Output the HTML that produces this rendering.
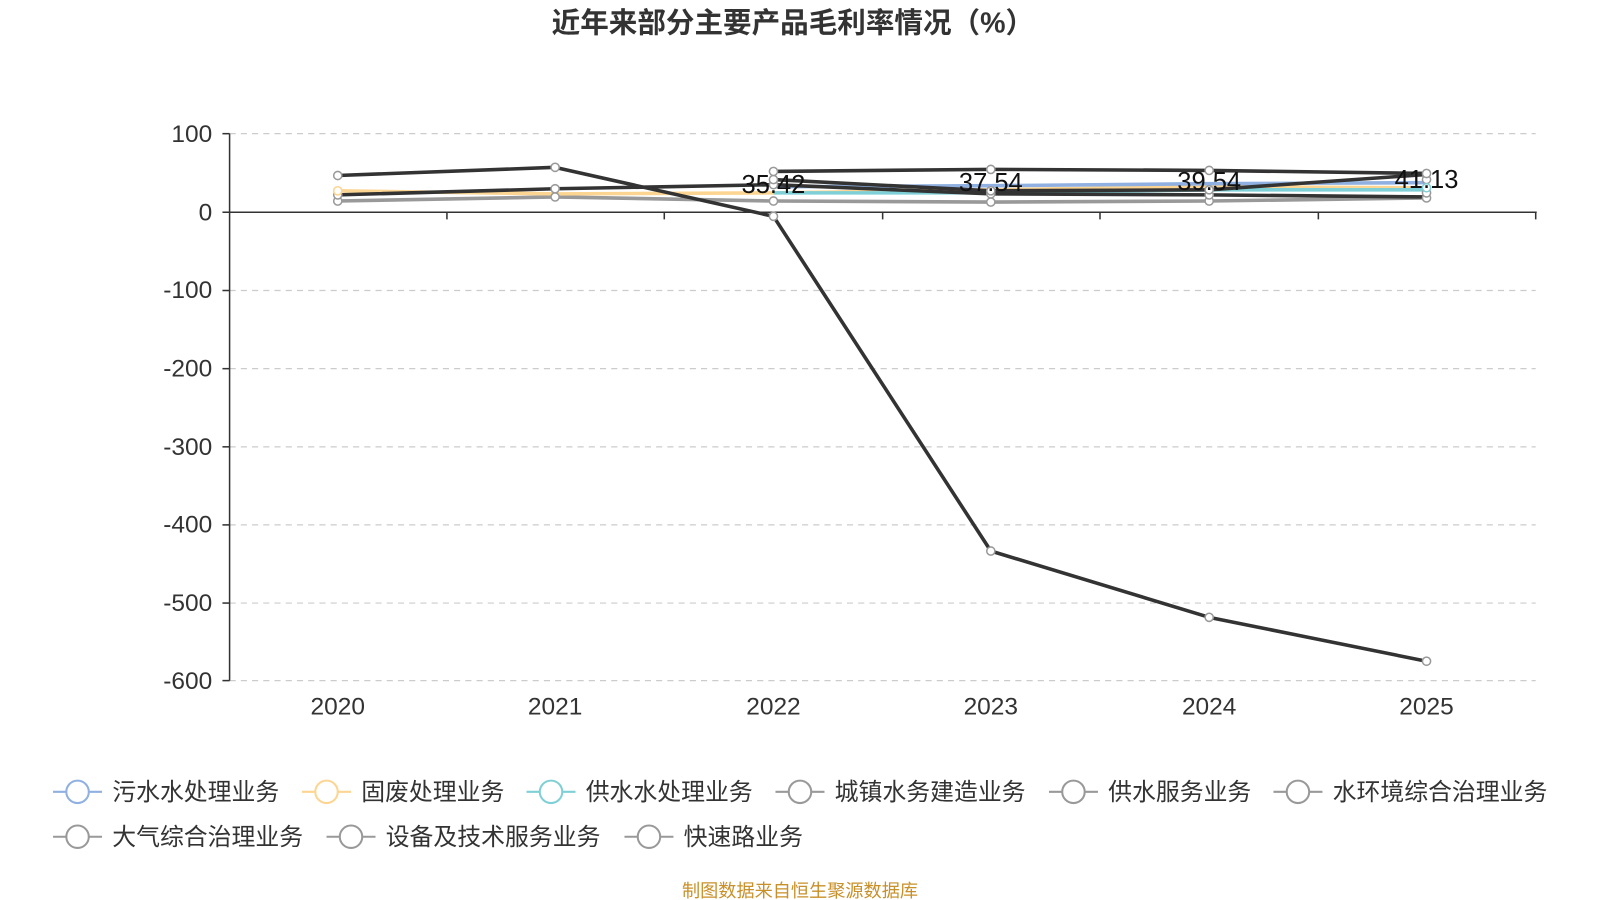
<!DOCTYPE html>
<html><head><meta charset="utf-8"><style>
body{margin:0;background:#fff;}
svg{display:block;font-family:"Liberation Sans","Noto Sans CJK SC",sans-serif;}
</style></head><body>
<svg width="1600" height="900" viewBox="0 0 1600 900">
<g transform="scale(1.0204)">
<text x="777" y="32" text-anchor="middle" font-size="28" font-weight="bold" fill="#333">近年来部分主要产品毛利率情况（%）</text>
<g stroke="#ccc" stroke-dasharray="6,5" stroke-width="1.2">
<line x1="225" y1="131" x2="1505" y2="131"/><line x1="225" y1="284.7" x2="1505" y2="284.7"/>
<line x1="225" y1="361.3" x2="1505" y2="361.3"/><line x1="225" y1="437.9" x2="1505" y2="437.9"/>
<line x1="225" y1="514.4" x2="1505" y2="514.4"/><line x1="225" y1="591" x2="1505" y2="591"/>
<line x1="225" y1="667" x2="1505" y2="667"/>
</g>
<g stroke="#333" stroke-width="1.5">
<line x1="225" y1="131" x2="225" y2="667"/>
<line x1="225" y1="208" x2="1506" y2="208"/>
<line x1="218" y1="131" x2="225" y2="131"/><line x1="218" y1="208" x2="225" y2="208"/>
<line x1="218" y1="284.7" x2="225" y2="284.7"/><line x1="218" y1="361.3" x2="225" y2="361.3"/>
<line x1="218" y1="437.9" x2="225" y2="437.9"/><line x1="218" y1="514.4" x2="225" y2="514.4"/>
<line x1="218" y1="591" x2="225" y2="591"/><line x1="218" y1="667" x2="225" y2="667"/>
<line x1="438" y1="208" x2="438" y2="215"/><line x1="651" y1="208" x2="651" y2="215"/>
<line x1="865" y1="208" x2="865" y2="215"/><line x1="1078" y1="208" x2="1078" y2="215"/>
<line x1="1292" y1="208" x2="1292" y2="215"/><line x1="1505" y1="208" x2="1505" y2="215"/>
</g>
<g font-size="24" fill="#333" text-anchor="end">
<text x="208" y="139">100</text><text x="208" y="216">0</text><text x="208" y="292">-100</text>
<text x="208" y="369">-200</text><text x="208" y="446">-300</text><text x="208" y="522">-400</text>
<text x="208" y="599">-500</text><text x="208" y="675">-600</text>
</g>
<g font-size="24" fill="#333" text-anchor="middle">
<text x="331" y="700">2020</text><text x="544" y="700">2021</text><text x="758" y="700">2022</text>
<text x="971" y="700">2023</text><text x="1185" y="700">2024</text><text x="1398" y="700">2025</text>
</g>
<g fill="none" stroke-width="3.5" stroke-linejoin="round">
<polyline stroke="#999" points="331,197 544,193 758,197 971,198 1185,197 1398,194"/>
<polyline stroke="#fdd592" points="331,187 544,190 758,189 971,186 1185,183 1398,184"/>
<polyline stroke="#8fb0e0" points="758,183 971,182 1185,180 1398,179"/>
<polyline stroke="#7fd0d6" points="758,189 971,189 1185,186 1398,186"/>
<polyline stroke="#333" points="331,191 544,185 758,181 971,190 1185,191 1398,193"/>
<polyline stroke="#333" points="758,176 971,187 1185,186 1398,171"/>
<polyline stroke="#333" points="758,168 971,166 1185,167 1398,170"/>
<polyline stroke="#333" points="331,172 544,164 758,212 971,540 1185,605 1398,648"/>
</g>
<g fill="#fff" stroke="#999" stroke-width="1.5">
<circle cx="331" cy="197" r="4"/><circle cx="544" cy="193" r="4"/><circle cx="758" cy="197" r="4"/><circle cx="971" cy="198" r="4"/><circle cx="1185" cy="197" r="4"/><circle cx="1398" cy="194" r="4"/>
<circle cx="331" cy="191" r="4"/><circle cx="544" cy="185" r="4"/><circle cx="758" cy="181" r="4"/><circle cx="971" cy="190" r="4"/><circle cx="1185" cy="191" r="4"/><circle cx="1398" cy="189" r="4"/>
<circle cx="758" cy="176" r="4"/><circle cx="971" cy="187" r="4"/><circle cx="1185" cy="186" r="4"/><circle cx="1398" cy="176" r="4"/>
<circle cx="758" cy="168" r="4"/><circle cx="971" cy="166" r="4"/><circle cx="1185" cy="167" r="4"/><circle cx="1398" cy="170" r="4"/>
<circle cx="331" cy="172" r="4"/><circle cx="544" cy="164" r="4"/><circle cx="758" cy="212" r="4"/><circle cx="971" cy="540" r="4"/><circle cx="1185" cy="605" r="4"/><circle cx="1398" cy="648" r="4"/>
<circle cx="331" cy="187" r="4" stroke="#fdd592"/><circle cx="1398" cy="184" r="4" stroke="#7fd0d6"/>
</g>
<g font-size="25" fill="#111" text-anchor="middle">
<text x="758" y="189">35.42</text><text x="971" y="187">37.54</text><text x="1185" y="186">39.54</text><text x="1398" y="184">41.13</text>
</g>
<g font-size="23.4" fill="#333" stroke-width="2">
<g><line x1="52" y1="776" x2="100" y2="776" stroke="#8fb0e0"/><circle cx="76" cy="776" r="11" fill="#fff" stroke="#8fb0e0"/><text x="110" y="784">污水水处理业务</text></g>
<g><line x1="296" y1="776" x2="344" y2="776" stroke="#fdd592"/><circle cx="320" cy="776" r="11" fill="#fff" stroke="#fdd592"/><text x="354" y="784">固废处理业务</text></g>
<g><line x1="516" y1="776" x2="564" y2="776" stroke="#7fd0d6"/><circle cx="540" cy="776" r="11" fill="#fff" stroke="#7fd0d6"/><text x="574" y="784">供水水处理业务</text></g>
<g><line x1="760" y1="776" x2="808" y2="776" stroke="#999"/><circle cx="784" cy="776" r="11" fill="#fff" stroke="#999"/><text x="818" y="784">城镇水务建造业务</text></g>
<g><line x1="1028" y1="776" x2="1076" y2="776" stroke="#999"/><circle cx="1052" cy="776" r="11" fill="#fff" stroke="#999"/><text x="1086" y="784">供水服务业务</text></g>
<g><line x1="1248" y1="776" x2="1296" y2="776" stroke="#999"/><circle cx="1272" cy="776" r="11" fill="#fff" stroke="#999"/><text x="1306" y="784">水环境综合治理业务</text></g>
<g><line x1="52" y1="820" x2="100" y2="820" stroke="#999"/><circle cx="76" cy="820" r="11" fill="#fff" stroke="#999"/><text x="110" y="828">大气综合治理业务</text></g>
<g><line x1="320" y1="820" x2="368" y2="820" stroke="#999"/><circle cx="344" cy="820" r="11" fill="#fff" stroke="#999"/><text x="378" y="828">设备及技术服务业务</text></g>
<g><line x1="612" y1="820" x2="660" y2="820" stroke="#999"/><circle cx="636" cy="820" r="11" fill="#fff" stroke="#999"/><text x="670" y="828">快速路业务</text></g>
</g>
<text x="784" y="879" text-anchor="middle" font-size="17.8" fill="#c8902a">制图数据来自恒生聚源数据库</text>
</g>
</svg>
</body></html>
